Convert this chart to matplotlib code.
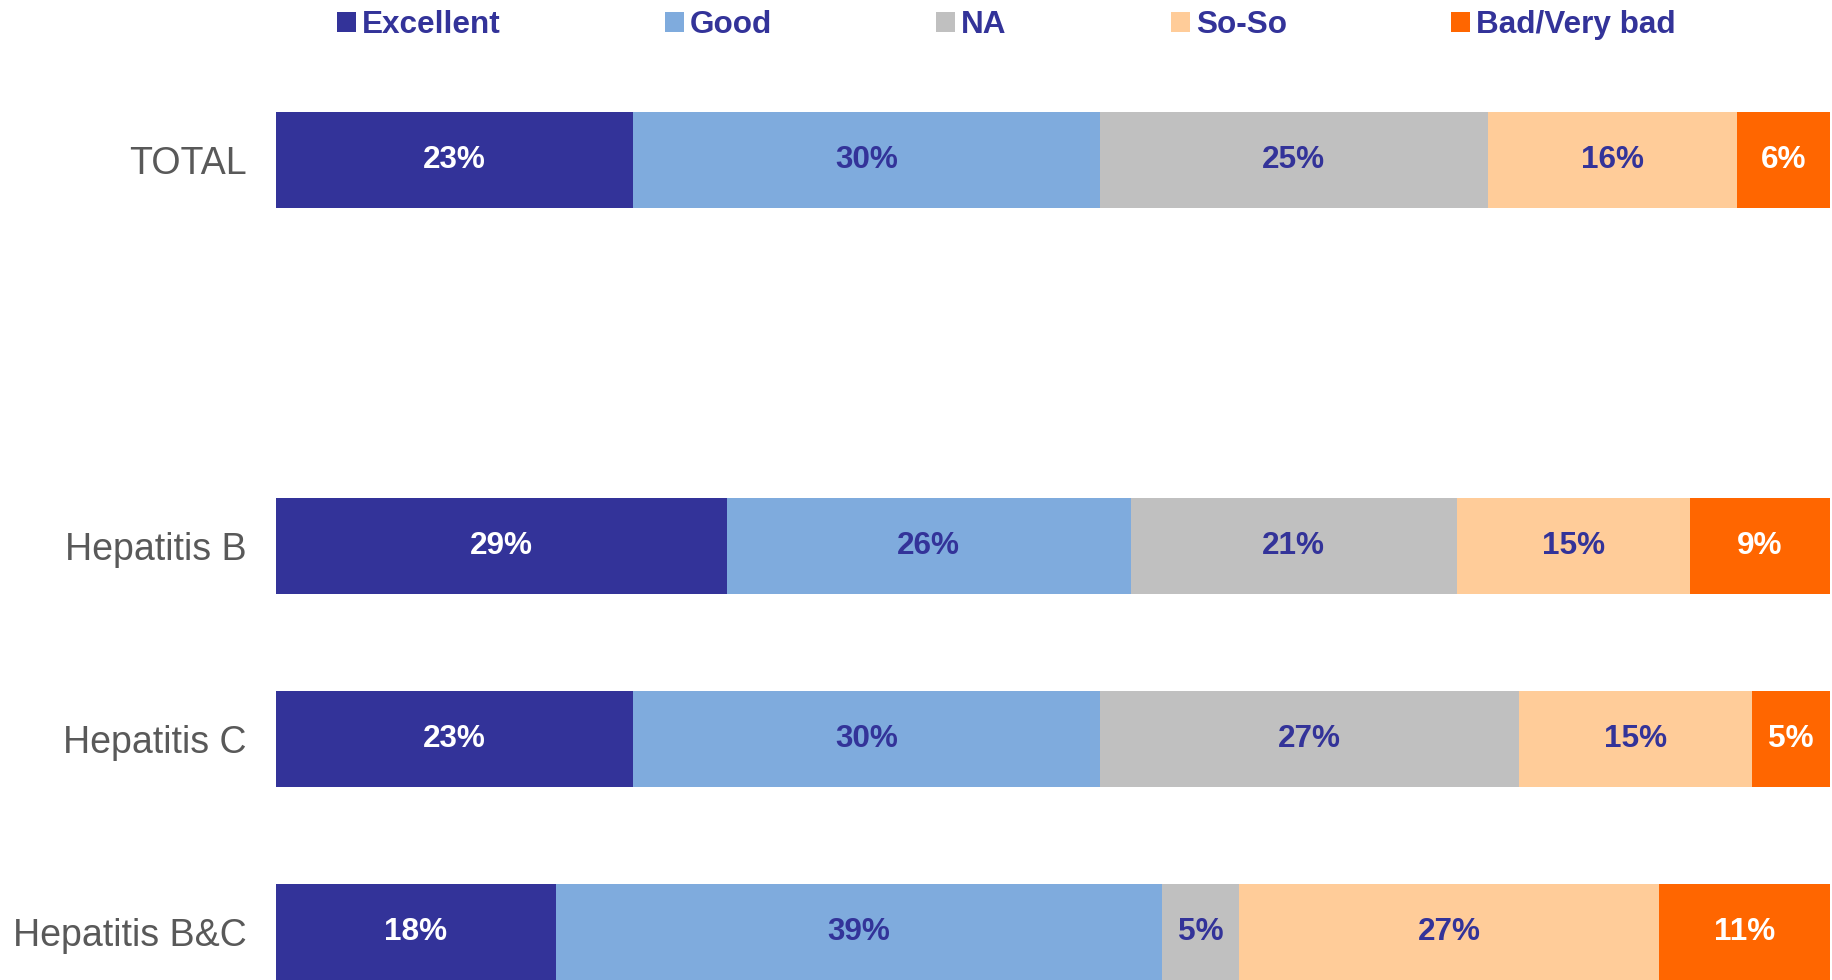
import numpy as np
import matplotlib.pyplot as plt

plt.rcParams['font.family'] = ['Liberation Sans', 'DejaVu Sans']

categories = ['TOTAL', 'Hepatitis B', 'Hepatitis C', 'Hepatitis B&C']
ratings = ['Excellent', 'Good', 'NA', 'So-So', 'Bad/Very bad']
# percent per rating, one list per category (same order as categories)
excellent = [23, 29, 23, 18]
good = [30, 26, 30, 39]
na = [25, 21, 27, 5]
so_so = [16, 15, 15, 27]
bad = [6, 9, 5, 11]

colors = ['#333399', '#7FABDD', '#C0C0C0', '#FFCC99', '#FF6600']
label_colors = ['white', '#333399', '#333399', '#333399', 'white']

series = [excellent, good, na, so_so, bad]
ypos = np.array([0, 2, 3, 4])

fig = plt.figure(figsize=(18.33, 9.8), dpi=100)
ax = fig.add_axes([276 / 1833, 0, 1 - 276 / 1833, 1])

left = np.zeros(len(categories))
for vals, name, col, tcol in zip(series, ratings, colors, label_colors):
    vals = np.array(vals) / 100
    rects = ax.barh(ypos, vals, height=0.5, left=left, color=col, label=name)
    ax.bar_label(rects, labels=[f'{v:.0%}' for v in vals], label_type='center',
                 color=tcol, fontsize=22.7, fontweight='bold')
    left += vals

ax.set_xlim(0, 1.002)
ax.set_ylim(4.25, -0.83)
ax.set_yticks(ypos)
ax.set_yticklabels(categories, fontsize=27, color='#595959')
ax.tick_params(axis='y', length=0, pad=21)
ax.set_xticks([])
for s in ax.spines.values():
    s.set_visible(False)

fig.legend(loc='upper center', bbox_to_anchor=(0.549, 1.019), ncol=5, frameon=False,
           prop={'size': 22.7, 'weight': 'bold'}, labelcolor='#333399',
           handlelength=0.6, handleheight=0.6, handletextpad=0.2, columnspacing=5.2)

fig.savefig('out.png', dpi=100)
